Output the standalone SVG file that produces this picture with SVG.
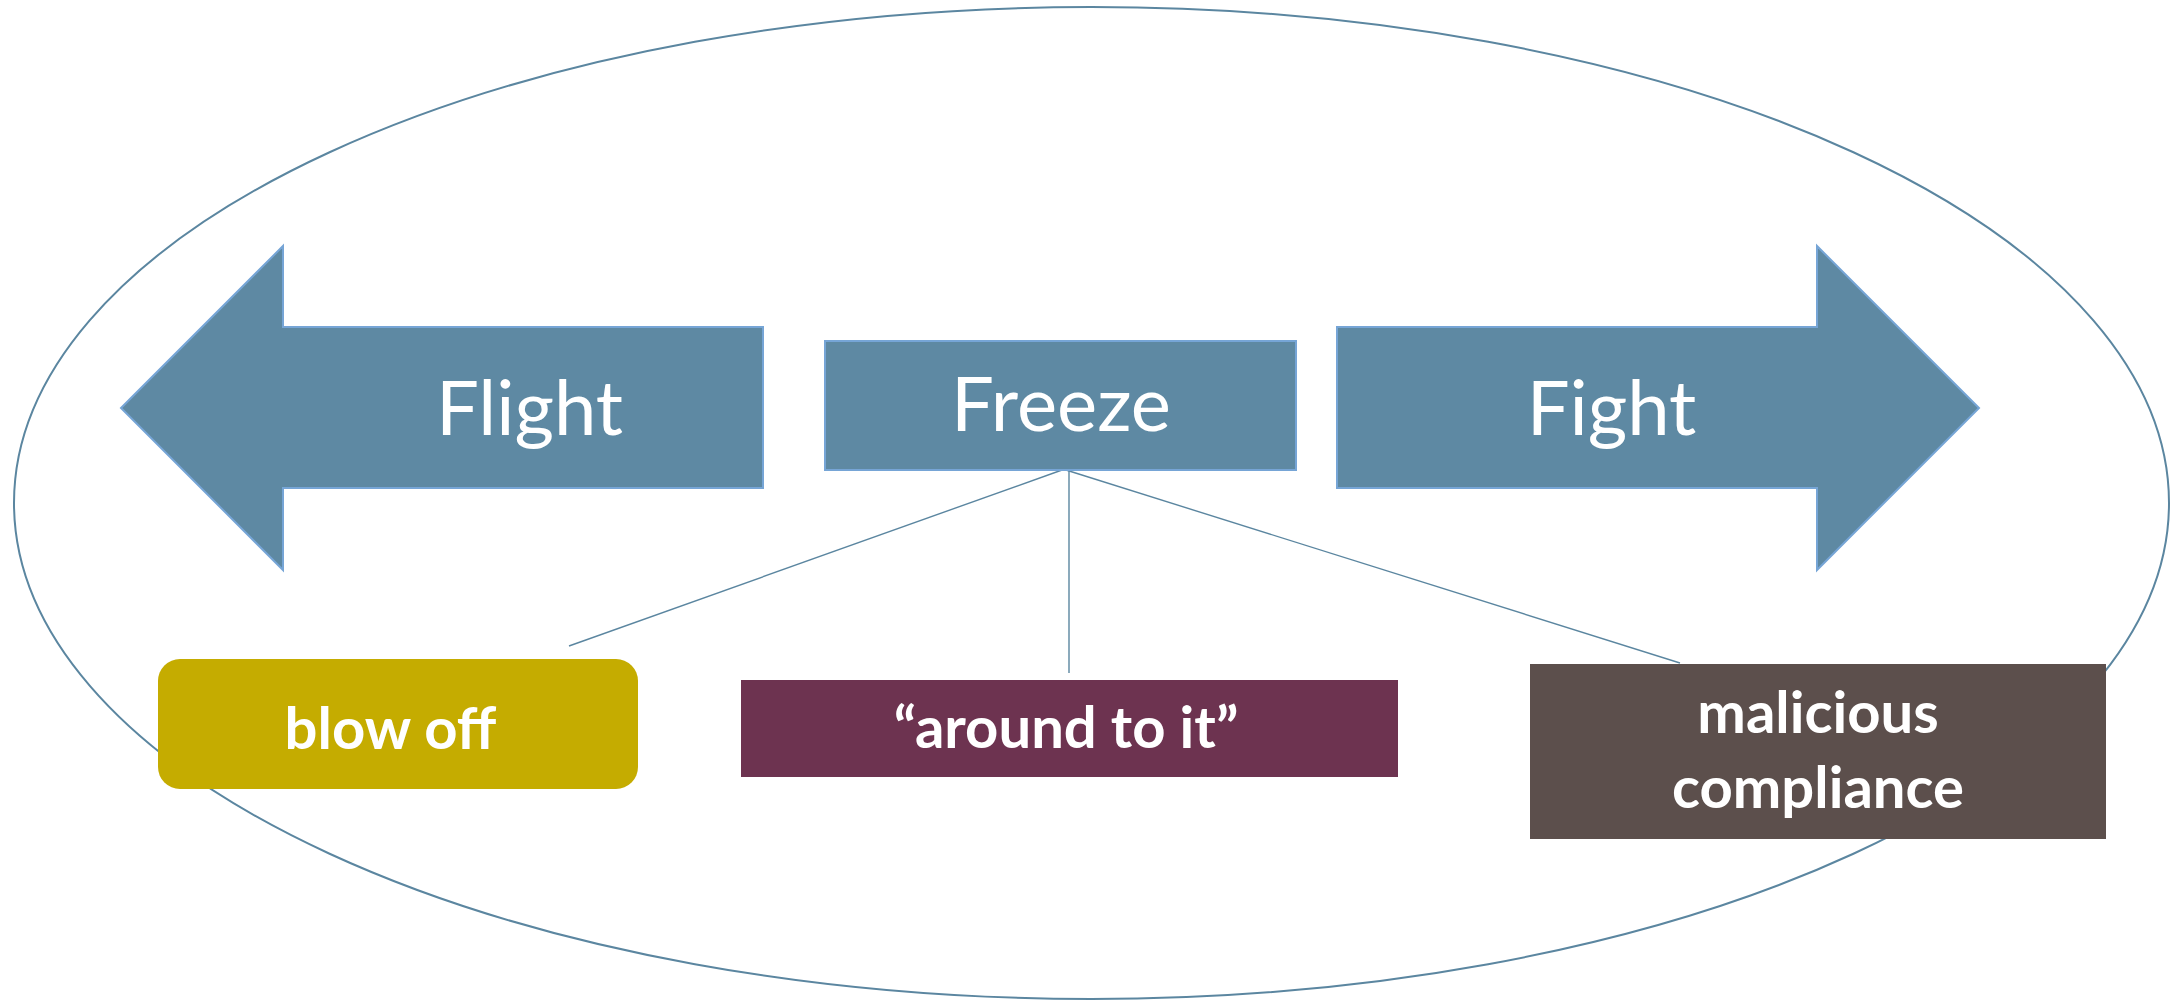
<svg xmlns="http://www.w3.org/2000/svg" width="2183" height="1000" viewBox="0 0 2183 1000">
  <style>
    .frame { fill: none; stroke: #5B86A0; stroke-width: 2; }
    .link { stroke: #5B86A0; stroke-width: 1.4; fill: none; }
    .blue { fill: #5E89A3; stroke: #76A5D6; stroke-width: 2; }
    .head { font-family: Lato, "Open Sans", sans-serif; font-size: 76px; fill: #FFFFFF; text-anchor: middle; }
    .tag { font-family: Lato, "Open Sans", sans-serif; font-weight: bold; font-size: 58px; fill: #FFFFFF; text-anchor: middle; }
  </style>
  <rect x="0" y="0" width="2183" height="1000" fill="#FFFFFF"/>

  <!-- enclosing oval -->
  <ellipse class="frame" cx="1091.5" cy="503" rx="1077.5" ry="496"/>

  <!-- connectors from Freeze -->
  <g id="connectors">
    <line class="link" x1="1062" y1="470" x2="569" y2="646"/>
    <line class="link" x1="1069" y1="470" x2="1069" y2="673"/>
    <line class="link" x1="1066" y1="470" x2="1680" y2="663"/>
  </g>

  <g id="flight">
    <path class="blue" d="M121,408 L283,246 L283,327 L763,327 L763,488 L283,488 L283,570 Z"/>
    <text class="head" x="529.5" y="435">Flight</text>
  </g>

  <g id="freeze">
    <rect class="blue" x="825" y="341" width="471" height="129"/>
    <text class="head" x="1061" y="431">Freeze</text>
  </g>

  <g id="fight">
    <path class="blue" d="M1337,327 L1817,327 L1817,246 L1979,408 L1817,570 L1817,488 L1337,488 Z"/>
    <text class="head" x="1611.5" y="435">Fight</text>
  </g>

  <g id="blow-off">
    <rect x="158" y="659" width="480" height="130" rx="22" ry="22" fill="#C5AC00"/>
    <text class="tag" x="390.5" y="749">blow off</text>
  </g>

  <g id="around-to-it">
    <rect x="741" y="680" width="657" height="97" fill="#6D3350"/>
    <text class="tag" x="1066" y="748">“around to it”</text>
  </g>

  <g id="malicious-compliance">
    <rect x="1530" y="664" width="576" height="175" fill="#5C4F4C"/>
    <text class="tag" x="1818" y="733">malicious</text>
    <text class="tag" x="1818" y="808">compliance</text>
  </g>
</svg>
